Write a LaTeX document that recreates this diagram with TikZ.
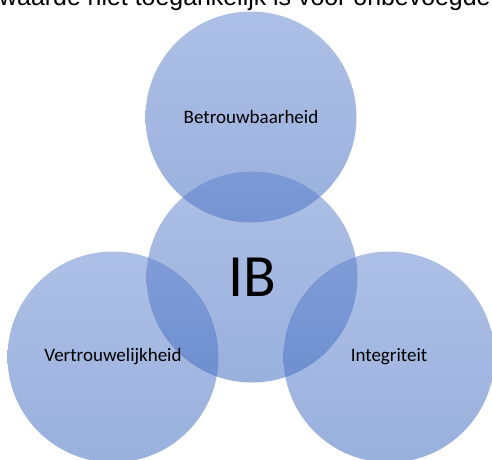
\documentclass[tikz,border=0pt]{standalone}
\usepackage{fontspec}
\setmainfont{Liberation Sans}
\newfontfamily\carlito{Carlito}
\usetikzlibrary{positioning}
\definecolor{vennTop}{RGB}{92,128,204}
\definecolor{vennBottom}{RGB}{52,98,188}

\begin{document}
\begin{tikzpicture}[x=1pt, y=-1pt,
        venn/.style={circle, minimum size=211pt, inner sep=0pt, top color=vennTop, bottom color=vennBottom, fill opacity=0.5},
        lbl/.style={font=\carlito\fontsize{19}{23}\selectfont, text=black},
        big/.style={font=\carlito\fontsize{60}{70}\selectfont, text=black},
        cut/.style={font=\fontsize{24.9}{29}\selectfont, inner sep=0pt, anchor=base west}
    ]
        \useasboundingbox (0,0) rectangle (492,459);
        \clip (0,0) rectangle (492,459);

        % Text line cut off above
        \node[cut] (line) at (-1,5) {waarde niet toegankelijk is voor onbevoegde};

        % Circles
        \node[venn] (betr) at (251,117) {};
        \node[venn] (ib) at (252,277) {};
        \node[venn] (vertr) at (113,357) {};
        \node[venn] (integr) at (389,357) {};

        % Labels
        \node[lbl] (betrtxt) at (betr) {Betrouwbaarheid};
        \node[big] (ibtxt) at (ib) {IB};
        \node[lbl] (vertrtxt) at (vertr) {Vertrouwelijkheid};
        \node[lbl] (integrtxt) at (integr) {Integriteit};

    \end{tikzpicture}
\end{document}
